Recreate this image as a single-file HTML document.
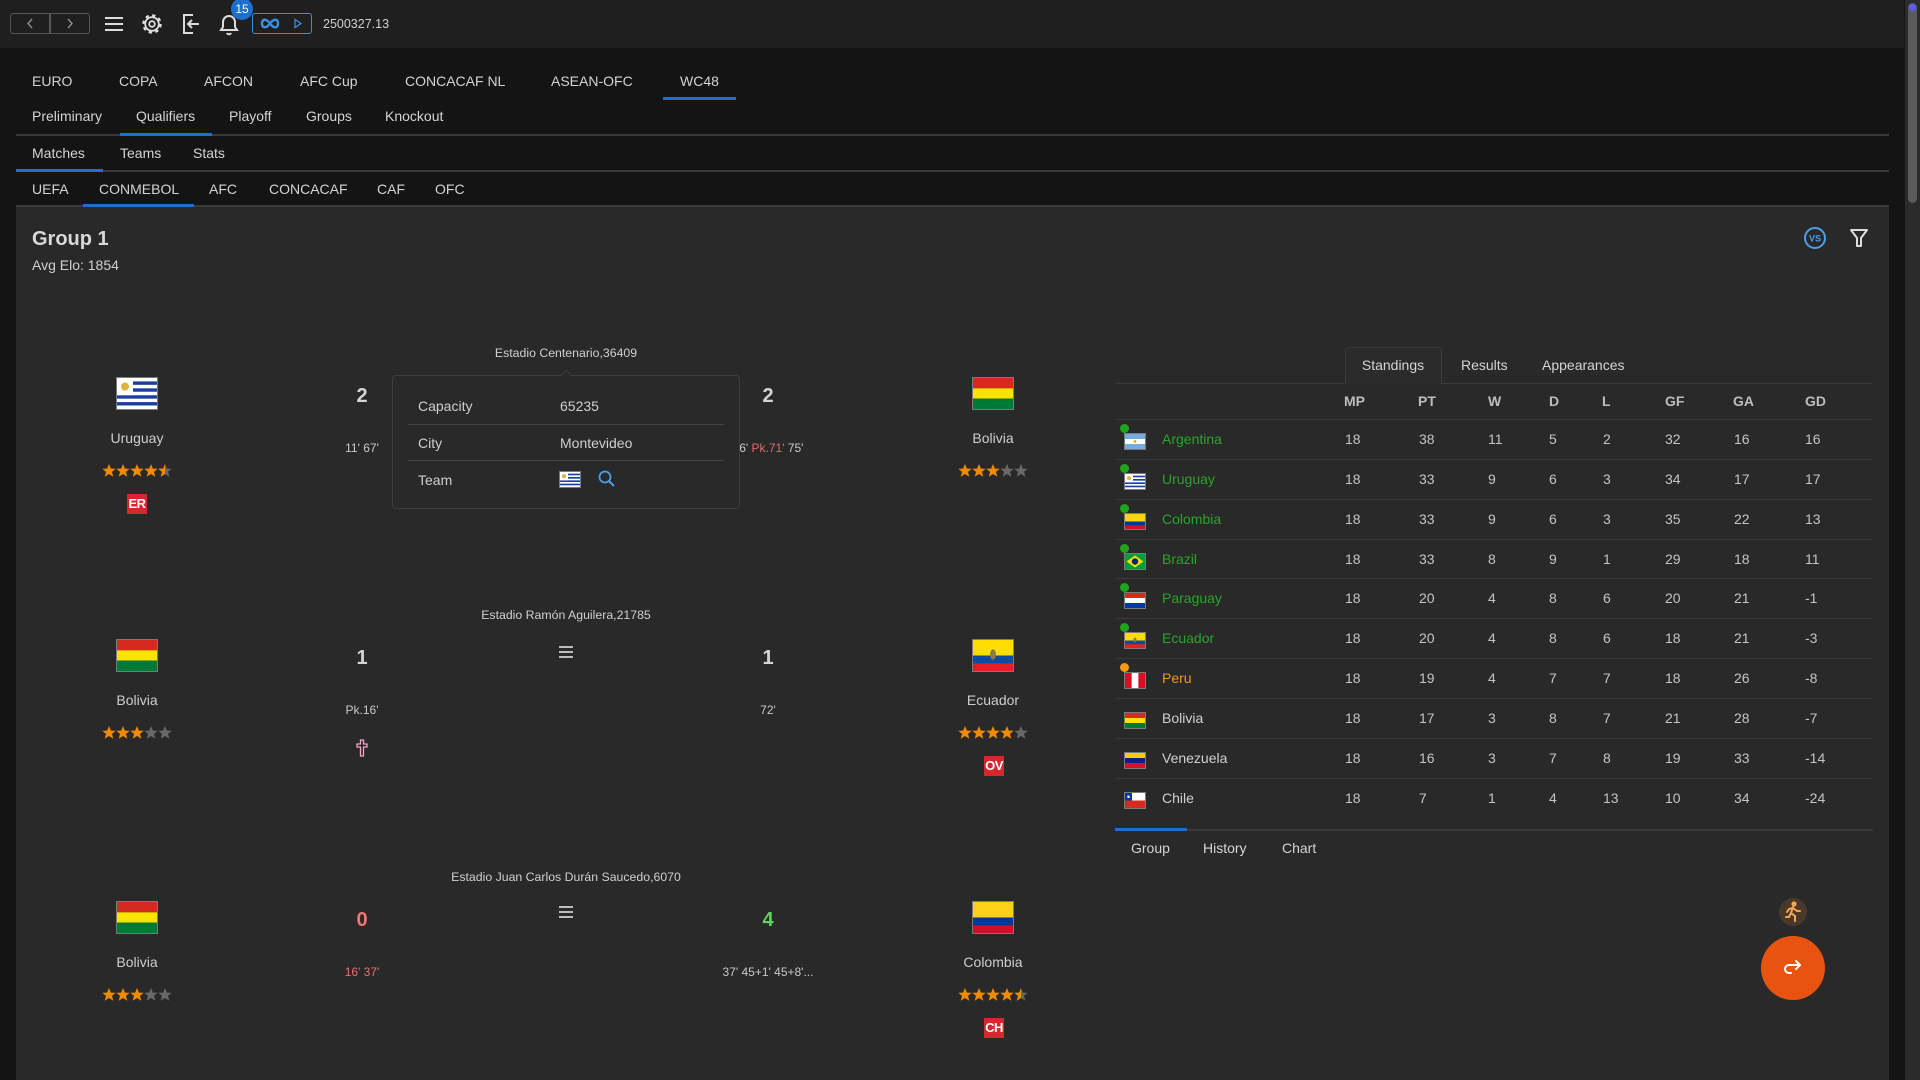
<!DOCTYPE html>
<html><head><meta charset="utf-8">
<style>
*{box-sizing:border-box}
body{margin:0;width:1920px;height:1080px;background:#141414;font-family:"Liberation Sans",Arial,sans-serif;color:#d2d2d2;position:relative;overflow:hidden}
.a{position:absolute;white-space:nowrap;line-height:20px}
.c{transform:translateX(-50%)}
.tab{font-size:14px;color:#d4d4d4}
.line{position:absolute;height:2px;background:#3a3a3a}
.ul{position:absolute;height:3px;background:#1e6fd0}
.stad{font-size:12.3px;color:#cfcfcf}
.name{font-size:14px;color:#cdcdcd}
.score{font-size:20px;font-weight:bold;color:#d4d4d4;line-height:24px}
.min{font-size:12px;color:#c8c8c8}
.flag{position:absolute;outline:1px solid #7a7a7a}
.badge{position:absolute;width:20px;height:20px;background:#d8262e;color:#fff;font-weight:bold;font-size:13px;line-height:20px;text-align:center;letter-spacing:-0.5px}
.stars{position:absolute;width:72px;height:14px}
.row{position:absolute;left:1115px;width:758px;height:40px;line-height:38px;font-size:14px;color:#c4c4c4;border-top:1px solid #3a3a3a}
.row span{position:absolute;top:0}
.row .dot{width:9px;height:9px;border-radius:50%;left:5px;top:4px}
.row svg{position:absolute;left:10px;top:14px;outline:1px solid #7a7a7a}
.g{color:#2aa42a}
.hd{position:absolute;top:391px;font-size:14px;font-weight:bold;color:#bdbdbd;line-height:20px}
.pl{font-size:14px;color:#cfcfcf}
</style></head><body>

<!-- top bar -->
<div style="position:absolute;left:0;top:0;width:1904px;height:48px;background:#1f1f1f"></div>
<div style="position:absolute;left:10px;top:13px;width:80px;height:21px;border:1.5px solid #565656;border-radius:3px"></div>
<div style="position:absolute;left:49px;top:14px;width:1.5px;height:19px;background:#565656"></div>
<svg class="a" style="left:10px;top:13px" width="80" height="21"><polyline points="22,6 18,10.5 22,15" fill="none" stroke="#8a8a8a" stroke-width="1.5"/><polyline points="58,6 62,10.5 58,15" fill="none" stroke="#8a8a8a" stroke-width="1.5"/></svg>
<svg class="a" style="left:100px;top:10px" width="150" height="30">
 <g stroke="#dcdcdc" stroke-width="2"><line x1="5" y1="8" x2="23" y2="8"/><line x1="5" y1="14" x2="23" y2="14"/><line x1="5" y1="20" x2="23" y2="20"/></g>
 <g transform="translate(52,14)" fill="none" stroke="#dcdcdc"><circle r="8.3" stroke-width="3" stroke-dasharray="3.2 3.3"/><circle r="6.8" stroke-width="1.8"/><circle r="2.8" stroke-width="1.8"/></g>
 <g transform="translate(90,14)" fill="none" stroke="#dcdcdc" stroke-width="2"><path d="M3,-9 H-6 V9 H3"/><line x1="-2" y1="0" x2="9" y2="0"/><polyline points="2,-4 -2,0 2,4"/></g>
 <g transform="translate(129,14)" fill="none" stroke="#dcdcdc" stroke-width="2"><path d="M-8,6 H8 L6,3 V-2 A6,6 0 0 0 -6,-2 V3 Z"/><path d="M-2,9 A2.2,2.2 0 0 0 2,9"/></g>
</svg>
<div class="a" style="left:231px;top:-2px;width:22px;height:22px;border-radius:11px;background:#1d6fce;color:#fff;font-size:12px;line-height:22px;text-align:center">15</div>
<div style="position:absolute;left:252px;top:13px;width:60px;height:21px;border:1.5px solid #3b8de0;border-radius:3px"></div>
<svg class="a" style="left:252px;top:13px" width="60" height="21"><path d="M18,10.5 C14,5 10,6 10,10.5 C10,15 14,16 18,10.5 C22,5 26,6 26,10.5 C26,15 22,16 18,10.5Z" fill="none" stroke="#3b8de0" stroke-width="2.4"/><polygon points="43,6.5 49,10.5 43,14.5" fill="none" stroke="#3b8de0" stroke-width="1.3"/></svg>
<div class="a" style="left:323px;top:14px;font-size:12.5px;color:#cfcfcf">2500327.13</div>

<!-- scrollbar -->
<div style="position:absolute;left:1905px;top:0;width:15px;height:1080px;background:#2b2b2b"></div>
<div style="position:absolute;left:1908px;top:3px;width:9px;height:200px;background:#5a5a5a;border-radius:5px"></div>
<div style="position:absolute;left:1909px;top:4px;width:7px;height:7px;background:#5b5bff;border-radius:50%"></div>

<!-- tab rows -->
<div class="a tab" style="left:32px;top:71px">EURO</div>
<div class="a tab" style="left:119px;top:71px">COPA</div>
<div class="a tab" style="left:204px;top:71px">AFCON</div>
<div class="a tab" style="left:300px;top:71px">AFC Cup</div>
<div class="a tab" style="left:405px;top:71px">CONCACAF NL</div>
<div class="a tab" style="left:551px;top:71px">ASEAN-OFC</div>
<div class="a tab" style="left:680px;top:71px">WC48</div>
<div class="ul" style="left:663px;top:97px;width:73px"></div>

<div class="a tab" style="left:32px;top:106px">Preliminary</div>
<div class="a tab" style="left:136px;top:106px">Qualifiers</div>
<div class="a tab" style="left:229px;top:106px">Playoff</div>
<div class="a tab" style="left:306px;top:106px">Groups</div>
<div class="a tab" style="left:385px;top:106px">Knockout</div>
<div class="line" style="left:16px;top:134px;width:1873px"></div>
<div class="ul" style="left:120px;top:133px;width:92px"></div>

<div class="a tab" style="left:32px;top:143px">Matches</div>
<div class="a tab" style="left:120px;top:143px">Teams</div>
<div class="a tab" style="left:193px;top:143px">Stats</div>
<div class="line" style="left:16px;top:170px;width:1873px"></div>
<div class="ul" style="left:16px;top:169px;width:87px"></div>

<div class="a tab" style="left:32px;top:179px">UEFA</div>
<div class="a tab" style="left:99px;top:179px">CONMEBOL</div>
<div class="a tab" style="left:209px;top:179px">AFC</div>
<div class="a tab" style="left:269px;top:179px">CONCACAF</div>
<div class="a tab" style="left:377px;top:179px">CAF</div>
<div class="a tab" style="left:435px;top:179px">OFC</div>

<!-- content panel -->
<div style="position:absolute;left:16px;top:206px;width:1873px;height:874px;background:#292929"></div>
<div class="line" style="left:16px;top:205px;width:1873px"></div>
<div class="ul" style="left:83px;top:204px;width:111px"></div>

<div class="a" style="left:32px;top:227px;font-size:20px;font-weight:bold;color:#d8d8d8;line-height:24px">Group 1</div>
<div class="a" style="left:32px;top:255px;font-size:14px;color:#cfcfcf">Avg Elo: 1854</div>

<svg class="a" style="left:1800px;top:224px" width="75" height="30">
 <circle cx="15" cy="14" r="10" fill="none" stroke="#4a9fe8" stroke-width="2"/>
 <text x="15" y="17.5" font-family="Liberation Sans" font-size="9" font-weight="bold" fill="#4a9fe8" text-anchor="middle">VS</text>
 <path d="M51,6 H67 L61,14 V22 H57 V14 Z" fill="none" stroke="#dcdcdc" stroke-width="2" stroke-linejoin="round"/>
</svg>

<!-- ===== Match 1 ===== -->
<div class="a c stad" style="left:566px;top:343px">Estadio Centenario,36409</div>
<svg class="flag" style="left:117px;top:378px" width="40" height="31" viewBox="0 0 40 30" preserveAspectRatio="none"><rect width="40" height="30" fill="#fff"/><g fill="#1b3fa0"><rect y="3.3" width="40" height="3.3"/><rect y="10" width="40" height="3.3"/><rect y="16.7" width="40" height="3.3"/><rect y="23.3" width="40" height="3.3"/></g><rect width="16" height="16.6" fill="#fff"/><circle cx="8" cy="8.3" r="4" fill="#e3b23c"/></svg>
<div class="a c name" style="left:137px;top:428px">Uruguay</div>
<svg class="stars" style="left:102px;top:464px" viewBox="0 0 72 14"><defs><polygon id="s" points="7,0 8.9,4.6 13.7,4.8 10,7.9 11.3,12.7 7,10 2.7,12.7 4,7.9 0.3,4.8 5.1,4.6"/><clipPath id="h"><rect x="0" y="0" width="7" height="14"/></clipPath></defs><use href="#s" fill="#f08a00"/><use href="#s" x="14" fill="#f08a00"/><use href="#s" x="28" fill="#f08a00"/><use href="#s" x="42" fill="#f08a00"/><use href="#s" x="56" fill="#686868"/><g transform="translate(56,0)"><use href="#s" fill="#f08a00" clip-path="url(#h)"/></g></svg>
<div class="badge" style="left:127px;top:494px">ER</div>
<div class="a c score" style="left:362px;top:384px">2</div>
<div class="a c min" style="left:362px;top:438px">11' 67'</div>
<div class="a c score" style="left:768px;top:384px">2</div>
<div class="a c min" style="left:768px;top:438px">56' <span style="color:#e06a6a">Pk.71'</span> 75'</div>
<svg class="flag" style="left:973px;top:378px" width="40" height="31" viewBox="0 0 40 30" preserveAspectRatio="none"><rect width="40" height="10" fill="#d52b1e"/><rect y="10" width="40" height="10" fill="#f9e300"/><rect y="20" width="40" height="10" fill="#007934"/></svg>
<div class="a c name" style="left:993px;top:428px">Bolivia</div>
<svg class="stars" style="left:958px;top:464px" viewBox="0 0 72 14"><use href="#s" fill="#f08a00"/><use href="#s" x="14" fill="#f08a00"/><use href="#s" x="28" fill="#f08a00"/><use href="#s" x="42" fill="#686868"/><use href="#s" x="56" fill="#686868"/></svg>

<!-- popup -->
<div style="position:absolute;left:392px;top:375px;width:348px;height:134px;background:#292929;border:1px solid #3d3d3d;border-radius:4px"></div>
<div style="position:absolute;left:562px;top:371px;width:8px;height:8px;background:#292929;border-left:1px solid #3d3d3d;border-top:1px solid #3d3d3d;transform:rotate(45deg)"></div>
<div class="a pl" style="left:418px;top:396px">Capacity</div>
<div class="a pl" style="left:560px;top:396px">65235</div>
<div style="position:absolute;left:408px;top:424px;width:316px;height:1px;background:#444"></div>
<div class="a pl" style="left:418px;top:433px">City</div>
<div class="a pl" style="left:560px;top:433px">Montevideo</div>
<div style="position:absolute;left:408px;top:460px;width:316px;height:1px;background:#444"></div>
<div class="a pl" style="left:418px;top:470px">Team</div>
<svg class="flag" style="left:560px;top:472px" width="20" height="15" viewBox="0 0 40 30" preserveAspectRatio="none"><rect width="40" height="30" fill="#fff"/><g fill="#1b3fa0"><rect y="3.3" width="40" height="3.3"/><rect y="10" width="40" height="3.3"/><rect y="16.7" width="40" height="3.3"/><rect y="23.3" width="40" height="3.3"/></g><rect width="16" height="16.6" fill="#fff"/><circle cx="8" cy="8.3" r="4" fill="#e3b23c"/></svg>
<svg class="a" style="left:597px;top:469px" width="20" height="20"><circle cx="8" cy="8" r="5.5" fill="none" stroke="#4a9fe8" stroke-width="1.8"/><line x1="12" y1="12" x2="17" y2="17" stroke="#4a9fe8" stroke-width="2"/></svg>

<!-- ===== Match 2 ===== -->
<div class="a c stad" style="left:566px;top:605px">Estadio Ramón Aguilera,21785</div>
<svg class="flag" style="left:117px;top:640px" width="40" height="31" viewBox="0 0 40 30" preserveAspectRatio="none"><rect width="40" height="10" fill="#d52b1e"/><rect y="10" width="40" height="10" fill="#f9e300"/><rect y="20" width="40" height="10" fill="#007934"/></svg>
<div class="a c name" style="left:137px;top:690px">Bolivia</div>
<svg class="stars" style="left:102px;top:726px" viewBox="0 0 72 14"><use href="#s" fill="#f08a00"/><use href="#s" x="14" fill="#f08a00"/><use href="#s" x="28" fill="#f08a00"/><use href="#s" x="42" fill="#686868"/><use href="#s" x="56" fill="#686868"/></svg>
<div class="a c score" style="left:362px;top:646px">1</div>
<div class="a c min" style="left:362px;top:700px">Pk.16'</div>
<svg class="a" style="left:355px;top:739px" width="14" height="18"><path d="M5.5,1 H8.5 V5 H12 V8 H8.5 V17 H5.5 V8 H2 V5 H5.5 Z" fill="none" stroke="#f2a6c6" stroke-width="1.3"/></svg>
<svg class="a" style="left:558px;top:645px" width="16" height="14"><g stroke="#bdbdbd" stroke-width="2"><line x1="1" y1="2" x2="15" y2="2"/><line x1="1" y1="7" x2="15" y2="7"/><line x1="1" y1="12" x2="15" y2="12"/></g></svg>
<div class="a c score" style="left:768px;top:646px">1</div>
<div class="a c min" style="left:768px;top:700px">72'</div>
<svg class="flag" style="left:973px;top:640px" width="40" height="31" viewBox="0 0 40 30" preserveAspectRatio="none"><rect width="40" height="15" fill="#ffdd00"/><rect y="15" width="40" height="7.5" fill="#034ea2"/><rect y="22.5" width="40" height="7.5" fill="#ed1c24"/><ellipse cx="20" cy="14" rx="3" ry="5" fill="#8a7a4a"/></svg>
<div class="a c name" style="left:993px;top:690px">Ecuador</div>
<svg class="stars" style="left:958px;top:726px" viewBox="0 0 72 14"><use href="#s" fill="#f08a00"/><use href="#s" x="14" fill="#f08a00"/><use href="#s" x="28" fill="#f08a00"/><use href="#s" x="42" fill="#f08a00"/><use href="#s" x="56" fill="#686868"/></svg>
<div class="badge" style="left:984px;top:756px">OV</div>

<!-- ===== Match 3 ===== -->
<div class="a c stad" style="left:566px;top:867px">Estadio Juan Carlos Durán Saucedo,6070</div>
<svg class="flag" style="left:117px;top:902px" width="40" height="31" viewBox="0 0 40 30" preserveAspectRatio="none"><rect width="40" height="10" fill="#d52b1e"/><rect y="10" width="40" height="10" fill="#f9e300"/><rect y="20" width="40" height="10" fill="#007934"/></svg>
<div class="a c name" style="left:137px;top:952px">Bolivia</div>
<svg class="stars" style="left:102px;top:988px" viewBox="0 0 72 14"><use href="#s" fill="#f08a00"/><use href="#s" x="14" fill="#f08a00"/><use href="#s" x="28" fill="#f08a00"/><use href="#s" x="42" fill="#686868"/><use href="#s" x="56" fill="#686868"/></svg>
<div class="a c score" style="left:362px;top:908px;color:#f07575">0</div>
<div class="a c min" style="left:362px;top:962px;color:#e87070">16' 37'</div>
<svg class="a" style="left:558px;top:905px" width="16" height="14"><g stroke="#bdbdbd" stroke-width="2"><line x1="1" y1="2" x2="15" y2="2"/><line x1="1" y1="7" x2="15" y2="7"/><line x1="1" y1="12" x2="15" y2="12"/></g></svg>
<div class="a c score" style="left:768px;top:908px;color:#5fd35f">4</div>
<div class="a c min" style="left:768px;top:962px">37' 45+1' 45+8'...</div>
<svg class="flag" style="left:973px;top:902px" width="40" height="31" viewBox="0 0 40 30" preserveAspectRatio="none"><rect width="40" height="15" fill="#fcd116"/><rect y="15" width="40" height="7.5" fill="#003893"/><rect y="22.5" width="40" height="7.5" fill="#ce1126"/></svg>
<div class="a c name" style="left:993px;top:952px">Colombia</div>
<svg class="stars" style="left:958px;top:988px" viewBox="0 0 72 14"><use href="#s" fill="#f08a00"/><use href="#s" x="14" fill="#f08a00"/><use href="#s" x="28" fill="#f08a00"/><use href="#s" x="42" fill="#f08a00"/><use href="#s" x="56" fill="#686868"/><g transform="translate(56,0)"><use href="#s" fill="#f08a00" clip-path="url(#h)"/></g></svg>
<div class="badge" style="left:984px;top:1018px">CH</div>

<!-- ===== Standings ===== -->
<div style="position:absolute;left:1345px;top:347px;width:97px;height:37px;border:1px solid #3a3a3a;border-bottom:none;border-radius:4px 4px 0 0;background:#2b2b2b"></div>
<div class="a c tab" style="left:1393px;top:355px">Standings</div>
<div class="a tab" style="left:1461px;top:355px">Results</div>
<div class="a tab" style="left:1542px;top:355px">Appearances</div>
<div style="position:absolute;left:1115px;top:383px;width:758px;height:1px;background:#3a3a3a"></div>
<div style="position:absolute;left:1346px;top:383px;width:95px;height:1px;background:#2b2b2b"></div>

<div class="hd" style="left:1344px">MP</div>
<div class="hd" style="left:1418px">PT</div>
<div class="hd" style="left:1488px">W</div>
<div class="hd" style="left:1549px">D</div>
<div class="hd" style="left:1602px">L</div>
<div class="hd" style="left:1665px">GF</div>
<div class="hd" style="left:1733px">GA</div>
<div class="hd" style="left:1805px">GD</div>

<div class="row" style="top:419px"><span class="dot" style="background:#1ea51e"></span><svg width="20" height="15" viewBox="0 0 40 30" preserveAspectRatio="none"><rect width="40" height="30" fill="#74acdf"/><rect y="10" width="40" height="10" fill="#fff"/><circle cx="20" cy="15" r="3" fill="#f6b40e"/></svg><span class="g" style="left:47px">Argentina</span><span style="left:230px">18</span><span style="left:304px">38</span><span style="left:373px">11</span><span style="left:434px">5</span><span style="left:488px">2</span><span style="left:550px">32</span><span style="left:619px">16</span><span style="left:690px">16</span></div>
<div class="row" style="top:459px"><span class="dot" style="background:#1ea51e"></span><svg width="20" height="15" viewBox="0 0 40 30" preserveAspectRatio="none"><rect width="40" height="30" fill="#fff"/><g fill="#1b3fa0"><rect y="3.3" width="40" height="3.3"/><rect y="10" width="40" height="3.3"/><rect y="16.7" width="40" height="3.3"/><rect y="23.3" width="40" height="3.3"/></g><rect width="16" height="16.6" fill="#fff"/><circle cx="8" cy="8.3" r="4" fill="#e3b23c"/></svg><span class="g" style="left:47px">Uruguay</span><span style="left:230px">18</span><span style="left:304px">33</span><span style="left:373px">9</span><span style="left:434px">6</span><span style="left:488px">3</span><span style="left:550px">34</span><span style="left:619px">17</span><span style="left:690px">17</span></div>
<div class="row" style="top:499px"><span class="dot" style="background:#1ea51e"></span><svg width="20" height="15" viewBox="0 0 40 30" preserveAspectRatio="none"><rect width="40" height="15" fill="#fcd116"/><rect y="15" width="40" height="7.5" fill="#003893"/><rect y="22.5" width="40" height="7.5" fill="#ce1126"/></svg><span class="g" style="left:47px">Colombia</span><span style="left:230px">18</span><span style="left:304px">33</span><span style="left:373px">9</span><span style="left:434px">6</span><span style="left:488px">3</span><span style="left:550px">35</span><span style="left:619px">22</span><span style="left:690px">13</span></div>
<div class="row" style="top:539px"><span class="dot" style="background:#1ea51e"></span><svg width="20" height="15" viewBox="0 0 40 30" preserveAspectRatio="none"><rect width="40" height="30" fill="#009c3b"/><polygon points="20,3 37,15 20,27 3,15" fill="#ffdf00"/><circle cx="20" cy="15" r="6.5" fill="#002776"/></svg><span class="g" style="left:47px">Brazil</span><span style="left:230px">18</span><span style="left:304px">33</span><span style="left:373px">8</span><span style="left:434px">9</span><span style="left:488px">1</span><span style="left:550px">29</span><span style="left:619px">18</span><span style="left:690px">11</span></div>
<div class="row" style="top:578px"><span class="dot" style="background:#1ea51e"></span><svg width="20" height="15" viewBox="0 0 40 30" preserveAspectRatio="none"><rect width="40" height="10" fill="#d52b1e"/><rect y="10" width="40" height="10" fill="#fff"/><rect y="20" width="40" height="10" fill="#0038a8"/></svg><span class="g" style="left:47px">Paraguay</span><span style="left:230px">18</span><span style="left:304px">20</span><span style="left:373px">4</span><span style="left:434px">8</span><span style="left:488px">6</span><span style="left:550px">20</span><span style="left:619px">21</span><span style="left:690px">-1</span></div>
<div class="row" style="top:618px"><span class="dot" style="background:#1ea51e"></span><svg width="20" height="15" viewBox="0 0 40 30" preserveAspectRatio="none"><rect width="40" height="15" fill="#ffdd00"/><rect y="15" width="40" height="7.5" fill="#034ea2"/><rect y="22.5" width="40" height="7.5" fill="#ed1c24"/><ellipse cx="20" cy="14" rx="3" ry="5" fill="#8a7a4a"/></svg><span class="g" style="left:47px">Ecuador</span><span style="left:230px">18</span><span style="left:304px">20</span><span style="left:373px">4</span><span style="left:434px">8</span><span style="left:488px">6</span><span style="left:550px">18</span><span style="left:619px">21</span><span style="left:690px">-3</span></div>
<div class="row" style="top:658px"><span class="dot" style="background:#f39a0e"></span><svg width="20" height="15" viewBox="0 0 40 30" preserveAspectRatio="none"><rect width="40" height="30" fill="#fff"/><rect width="13.3" height="30" fill="#d91023"/><rect x="26.7" width="13.3" height="30" fill="#d91023"/></svg><span style="left:47px;color:#f39a0e">Peru</span><span style="left:230px">18</span><span style="left:304px">19</span><span style="left:373px">4</span><span style="left:434px">7</span><span style="left:488px">7</span><span style="left:550px">18</span><span style="left:619px">26</span><span style="left:690px">-8</span></div>
<div class="row" style="top:698px"><svg width="20" height="15" viewBox="0 0 40 30" preserveAspectRatio="none"><rect width="40" height="10" fill="#d52b1e"/><rect y="10" width="40" height="10" fill="#f9e300"/><rect y="20" width="40" height="10" fill="#007934"/></svg><span style="left:47px;color:#d0d0d0">Bolivia</span><span style="left:230px">18</span><span style="left:304px">17</span><span style="left:373px">3</span><span style="left:434px">8</span><span style="left:488px">7</span><span style="left:550px">21</span><span style="left:619px">28</span><span style="left:690px">-7</span></div>
<div class="row" style="top:738px"><svg width="20" height="15" viewBox="0 0 40 30" preserveAspectRatio="none"><rect width="40" height="10" fill="#ffcc00"/><rect y="10" width="40" height="10" fill="#00247d"/><rect y="20" width="40" height="10" fill="#cf142b"/></svg><span style="left:47px;color:#d0d0d0">Venezuela</span><span style="left:230px">18</span><span style="left:304px">16</span><span style="left:373px">3</span><span style="left:434px">7</span><span style="left:488px">8</span><span style="left:550px">19</span><span style="left:619px">33</span><span style="left:690px">-14</span></div>
<div class="row" style="top:778px"><svg width="20" height="15" viewBox="0 0 40 30" preserveAspectRatio="none"><rect width="40" height="15" fill="#fff"/><rect y="15" width="40" height="15" fill="#d52b1e"/><rect width="14" height="15" fill="#0039a6"/><circle cx="7" cy="7.5" r="2.5" fill="#fff"/></svg><span style="left:47px;color:#d0d0d0">Chile</span><span style="left:230px">18</span><span style="left:304px">7</span><span style="left:373px">1</span><span style="left:434px">4</span><span style="left:488px">13</span><span style="left:550px">10</span><span style="left:619px">34</span><span style="left:690px">-24</span></div>

<div class="line" style="left:1115px;top:829px;width:758px"></div>
<div class="ul" style="left:1115px;top:828px;width:72px"></div>
<div class="a tab" style="left:1131px;top:838px">Group</div>
<div class="a tab" style="left:1203px;top:838px">History</div>
<div class="a tab" style="left:1282px;top:838px">Chart</div>

<!-- floating buttons -->
<div style="position:absolute;left:1779px;top:898px;width:28px;height:28px;border-radius:50%;background:#4a3828"></div>
<svg class="a" style="left:1783px;top:901px" width="20" height="22"><g stroke="#f5a55a" stroke-width="2" fill="none" stroke-linecap="round"><circle cx="11" cy="3" r="1.6" fill="#f5a55a"/><path d="M10,6 L8,12 L12,15 L12,20"/><path d="M8,12 L6,16 L3,16"/><path d="M10,7 L14,10 L17,10"/><path d="M10,7 L6,8 L4,11"/></g></svg>
<div style="position:absolute;left:1761px;top:936px;width:64px;height:64px;border-radius:50%;background:#e8540f"></div>
<svg class="a" style="left:1781px;top:956px" width="24" height="24"><g fill="none" stroke="#fff" stroke-width="2" stroke-linecap="round" stroke-linejoin="round"><path d="M19,9 H8 A4,4 0 0 0 8,17 H10"/><polyline points="15,5 19,9 15,13"/></g></svg>

</body></html>
